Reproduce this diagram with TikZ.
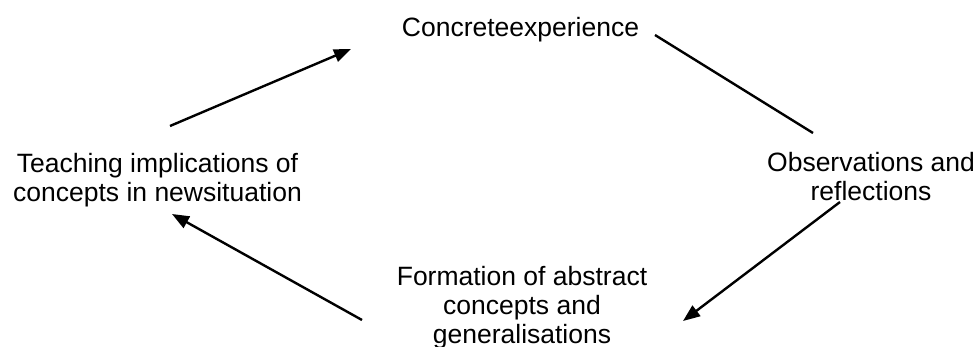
\documentclass[tikz,border=0pt]{standalone}
\usepackage{fontspec}
\setmainfont{Liberation Sans}
\usetikzlibrary{arrows.meta}
\tikzset{
  lbl/.style={inner sep=0pt, anchor=base, align=center, font=\fontsize{26.5}{29}\selectfont},
  conn/.style={line width=2.4pt, black},
  arr/.style={conn, -{Triangle[length=17pt,width=13pt]}}
}
\begin{document}
\begin{tikzpicture}[x=1pt,y=-1pt]
\useasboundingbox (0,0) rectangle (977,347);
\node[lbl] (ce) at (520.5,37) {Concreteexperience};
\node[lbl] (tc) at (157.5,202) {Teaching implications of\\concepts in newsituation};
\node[lbl] (or) at (871,201) {Observations and\\reflections};
\node[lbl] (fa) at (522,343) {Formation of abstract\\concepts and\\generalisations};
\coordinate (a1s) at (170,126);
\coordinate (a1e) at (351,49);
\coordinate (l2s) at (655,35);
\coordinate (l2e) at (813,133);
\coordinate (a3s) at (840,202);
\coordinate (a3e) at (683,321);
\coordinate (a4s) at (362,320);
\coordinate (a4e) at (172,214);
\draw[arr] (a1s) -- (a1e);
\draw[conn] (l2s) -- (l2e);
\draw[arr] (a3s) -- (a3e);
\draw[arr] (a4s) -- (a4e);
\end{tikzpicture}
\end{document}
